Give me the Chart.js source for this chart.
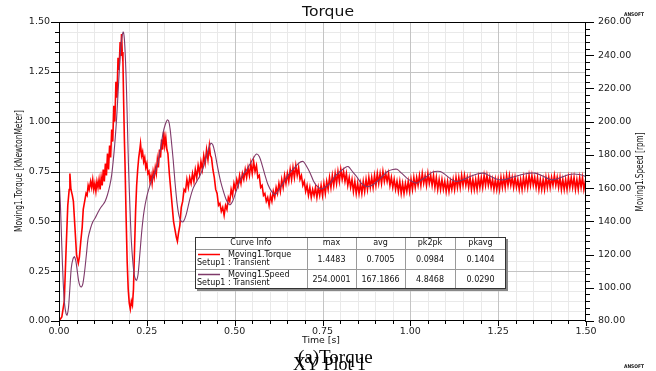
<!DOCTYPE html>
<html>
<head>
<meta charset="utf-8">
<script src="https://cdn.jsdelivr.net/npm/chart.js@4.4.1/dist/chart.umd.min.js"></script>
<style>
  html, body { margin: 0; padding: 0; background: #fff; }
  #wrap { width: 656px; height: 371px; }
</style>
</head>
<body>
<div id="wrap"><canvas id="c" width="656" height="371"></canvas></div>
<script>
// ---- data ----
// Moving1.Torque [kNewtonMeter] vs Time [s]
const torquePoints = [
  [0.000,0.00],[0.008,0.02],[0.015,0.10],[0.020,0.35],[0.025,0.58],[0.029,0.66],[0.031,0.74],[0.034,0.66],
  [0.038,0.63],[0.041,0.60],[0.045,0.48],[0.050,0.33],[0.055,0.29],[0.058,0.32],[0.062,0.40],[0.066,0.47],
  [0.069,0.56],[0.073,0.60],[0.077,0.64],[0.080,0.63],[0.083,0.68],[0.086,0.66],[0.090,0.70],[0.093,0.67],
  [0.096,0.71],[0.099,0.66],[0.102,0.69],[0.105,0.65],[0.108,0.70],[0.111,0.67],[0.114,0.71],[0.117,0.66],
  [0.120,0.72],[0.123,0.68],[0.126,0.76],[0.129,0.70],[0.132,0.79],[0.135,0.73],[0.138,0.84],[0.141,0.76],
  [0.144,0.88],[0.147,0.82],[0.150,0.96],[0.153,0.90],[0.156,1.08],[0.159,1.00],[0.162,1.20],[0.165,1.12],
  [0.168,1.32],[0.171,1.26],[0.174,1.40],[0.176,1.33],[0.178,1.44],[0.180,1.35],[0.182,1.30],[0.184,1.10],
  [0.186,0.92],[0.188,0.78],[0.191,0.52],[0.194,0.30],[0.197,0.16],[0.200,0.09],[0.203,0.06],[0.206,0.10],
  [0.209,0.08],[0.212,0.16],[0.215,0.36],[0.218,0.55],[0.221,0.68],[0.224,0.76],[0.227,0.82],[0.230,0.86],
  [0.232,0.89],[0.235,0.83],[0.238,0.85],[0.241,0.80],[0.244,0.82],[0.247,0.77],[0.250,0.79],[0.253,0.74],
  [0.256,0.75],[0.259,0.70],[0.262,0.73],[0.265,0.69],[0.268,0.75],[0.271,0.72],[0.274,0.77],[0.277,0.74],
  [0.280,0.81],[0.283,0.77],[0.286,0.86],[0.289,0.82],[0.292,0.91],[0.295,0.86],[0.298,0.95],[0.301,0.88],
  [0.304,0.92],[0.307,0.86],[0.310,0.84],[0.314,0.74],[0.318,0.66],[0.322,0.58],[0.326,0.50],[0.330,0.46],
  [0.334,0.42],[0.337,0.40],[0.340,0.44],[0.344,0.48],[0.348,0.57],[0.352,0.60],[0.356,0.66],[0.360,0.65],
  [0.364,0.71],[0.368,0.67],[0.372,0.72],[0.376,0.69],[0.380,0.74],[0.384,0.70],[0.388,0.76],[0.392,0.72],
  [0.396,0.78],[0.400,0.74],[0.404,0.80],[0.408,0.76],[0.412,0.83],[0.416,0.79],[0.420,0.86],[0.424,0.81],
  [0.428,0.88],[0.431,0.83],[0.434,0.82],[0.438,0.76],[0.442,0.72],[0.446,0.66],[0.450,0.64],[0.454,0.58],
  [0.458,0.59],[0.462,0.55],[0.466,0.57],[0.470,0.53],[0.474,0.58],[0.478,0.56],[0.482,0.62],[0.486,0.60],
  [0.490,0.66],[0.494,0.63],[0.498,0.69],[0.502,0.66],[0.506,0.71],[0.510,0.68],[0.514,0.73],[0.518,0.69],
  [0.522,0.74],[0.526,0.71],[0.530,0.76],[0.534,0.72],[0.538,0.77],[0.542,0.73],[0.546,0.79],[0.550,0.74],
  [0.554,0.80],[0.558,0.75],[0.562,0.78],[0.566,0.72],[0.570,0.73],[0.574,0.67],[0.578,0.68],[0.582,0.63],
  [0.586,0.64],[0.590,0.60],[0.594,0.62],[0.598,0.58],[0.602,0.63],[0.606,0.60],[0.610,0.65],[0.614,0.62],
  [0.618,0.67],[0.622,0.64],[0.626,0.69],[0.630,0.65],[0.634,0.71],[0.638,0.67],[0.642,0.73],[0.646,0.69],
  [0.650,0.74],[0.654,0.70],[0.658,0.76],[0.662,0.71],[0.666,0.77],[0.670,0.72],[0.674,0.78],[0.678,0.73],
  [0.682,0.77],[0.686,0.71],[0.690,0.73],[0.694,0.68],[0.698,0.70],[0.702,0.65],[0.706,0.68],[0.710,0.63],
  [0.714,0.67],[0.718,0.62],[0.722,0.66],[0.726,0.63],[0.730,0.67],[0.734,0.62],[0.738,0.67],[0.742,0.63],
  [0.746,0.68],[0.750,0.63],[0.754,0.69],[0.758,0.64],[0.762,0.70],[0.766,0.66],[0.770,0.72],[0.774,0.67],
  [0.778,0.73],[0.782,0.68],[0.786,0.74],[0.790,0.69],[0.794,0.75],[0.798,0.70],[0.802,0.76],[0.806,0.71],
  [0.810,0.75],[0.814,0.70],[0.818,0.74],[0.822,0.68],[0.826,0.72],[0.830,0.67],[0.834,0.71],[0.838,0.65],
  [0.842,0.70],[0.846,0.64],[0.850,0.69],[0.854,0.64],[0.858,0.69],[0.862,0.64],[0.866,0.70],[0.870,0.65],
  [0.874,0.71],[0.878,0.66],[0.882,0.72],[0.886,0.67],[0.890,0.72],[0.894,0.67],[0.898,0.73],[0.902,0.68],
  [0.906,0.74],[0.910,0.69],[0.914,0.74],[0.918,0.69],[0.922,0.75],[0.926,0.70],[0.930,0.74],[0.934,0.70],
  [0.938,0.74],[0.942,0.68],[0.946,0.72],[0.950,0.67],[0.954,0.71],[0.958,0.66],[0.962,0.70],[0.966,0.65],
  [0.970,0.70],[0.974,0.64],[0.978,0.69],[0.982,0.64],[0.986,0.69],[0.990,0.65],[0.994,0.70],[0.998,0.65],
  [1.002,0.71],[1.006,0.66],[1.010,0.72],[1.014,0.67],[1.018,0.72],[1.022,0.68],[1.026,0.73],[1.030,0.68],
  [1.034,0.74],[1.038,0.69],[1.042,0.73],[1.046,0.68],[1.050,0.74],[1.054,0.69],[1.058,0.73],[1.062,0.68],
  [1.066,0.73],[1.070,0.67],[1.074,0.72],[1.078,0.66],[1.082,0.71],[1.086,0.66],[1.090,0.71],[1.094,0.66],
  [1.098,0.70],[1.102,0.65],[1.106,0.70],[1.110,0.65],[1.114,0.70],[1.118,0.66],[1.122,0.71],[1.126,0.66],
  [1.130,0.72],[1.134,0.67],[1.138,0.72],[1.142,0.67],[1.146,0.73],[1.150,0.68],[1.154,0.73],[1.158,0.68],
  [1.162,0.72],[1.166,0.67],[1.170,0.72],[1.174,0.66],[1.178,0.71],[1.182,0.66],[1.186,0.71],[1.190,0.66],
  [1.194,0.72],[1.198,0.67],[1.202,0.72],[1.206,0.67],[1.210,0.73],[1.214,0.68],[1.218,0.73],[1.222,0.68],
  [1.226,0.72],[1.230,0.67],[1.234,0.71],[1.238,0.66],[1.242,0.71],[1.246,0.66],[1.250,0.71],[1.254,0.66],
  [1.258,0.72],[1.262,0.67],[1.266,0.72],[1.270,0.67],[1.274,0.73],[1.278,0.68],[1.282,0.73],[1.286,0.68],
  [1.290,0.72],[1.294,0.67],[1.298,0.72],[1.302,0.67],[1.306,0.71],[1.310,0.66],[1.314,0.71],[1.318,0.66],
  [1.322,0.72],[1.326,0.67],[1.330,0.72],[1.334,0.67],[1.338,0.73],[1.342,0.68],[1.346,0.73],[1.350,0.68],
  [1.354,0.72],[1.358,0.67],[1.362,0.72],[1.366,0.66],[1.370,0.71],[1.374,0.66],[1.378,0.71],[1.382,0.66],
  [1.386,0.72],[1.390,0.67],[1.394,0.72],[1.398,0.67],[1.402,0.72],[1.406,0.68],[1.410,0.73],[1.414,0.68],
  [1.418,0.72],[1.422,0.67],[1.426,0.72],[1.430,0.66],[1.434,0.71],[1.438,0.66],[1.442,0.71],[1.446,0.66],
  [1.450,0.72],[1.454,0.67],[1.458,0.72],[1.462,0.67],[1.466,0.72],[1.470,0.66],[1.474,0.71],[1.478,0.66],
  [1.482,0.72],[1.486,0.67],[1.490,0.72],[1.494,0.66],[1.498,0.70],[1.500,0.67]
];

// Moving1.Speed [rpm] vs Time [s]
const speedPoints = [
  [0.000,167],[0.004,150],[0.008,125],[0.012,103],[0.016,90],[0.020,84.5],[0.023,83.5],[0.027,88],
  [0.031,100],[0.035,112],[0.040,117.5],[0.044,118.7],[0.048,116],[0.052,110],[0.056,104],[0.060,101],
  [0.064,100.5],[0.068,102.5],[0.073,110],[0.078,120],[0.083,130],[0.090,136],[0.097,140],[0.103,142],
  [0.110,145],[0.118,148],[0.125,150],[0.131,152],[0.138,156],[0.145,162],[0.150,168],[0.156,180],
  [0.160,190],[0.164,202],[0.168,217],[0.172,232],[0.176,245],[0.180,252],[0.183,254],[0.186,250],
  [0.189,238],[0.192,220],[0.195,196],[0.198,172],[0.202,148],[0.206,128],[0.210,116],[0.214,108],
  [0.218,105],[0.221,104.5],[0.225,108],[0.230,120],[0.236,135],[0.242,146],[0.250,155],[0.258,161],
  [0.266,166],[0.274,170],[0.282,176],[0.290,185],[0.296,193],[0.302,198],[0.308,201],[0.312,200.5],
  [0.316,196],[0.320,188],[0.325,177],[0.330,164],[0.336,151],[0.342,143],[0.348,140],[0.354,139.8],
  [0.362,144],[0.372,153],[0.382,160],[0.392,164],[0.400,167],[0.410,172],[0.418,178],[0.425,183],
  [0.432,187],[0.438,186],[0.444,181],[0.452,172],[0.460,164],[0.468,158],[0.476,153],[0.485,150],
  [0.494,152],[0.504,158],[0.514,164],[0.524,168],[0.534,171],[0.545,175],[0.553,178],[0.562,180.5],
  [0.570,179],[0.578,174],[0.586,168],[0.595,162],[0.605,158],[0.615,156],[0.626,159],[0.638,163],
  [0.650,167],[0.660,170],[0.670,172],[0.682,175],[0.695,176],[0.705,173],[0.715,169],[0.725,164],
  [0.735,161],[0.748,159.5],[0.760,161],[0.772,163],[0.785,167],[0.800,170],[0.812,172],[0.823,173],
  [0.835,170],[0.847,167],[0.860,163],[0.875,161],[0.890,161.5],[0.905,164],[0.920,167],[0.935,170],
  [0.950,171.2],[0.962,171.3],[0.975,169],[0.990,166],[1.005,164],[1.018,163],[1.032,165],[1.047,167],
  [1.062,169.5],[1.085,170],[1.100,168],[1.118,165],[1.132,164],[1.150,165],[1.170,167],[1.190,168.5],
  [1.208,169],[1.225,167.5],[1.245,165.5],[1.265,165],[1.290,166.5],[1.315,168],[1.340,169],[1.355,169],
  [1.375,167.5],[1.395,165.5],[1.407,165],[1.430,166.5],[1.450,168],[1.465,168.5],[1.485,168],[1.500,167]
];

// curve info table
const statHeaders = ['Curve Info', 'max', 'avg', 'pk2pk', 'pkavg'];
const curveNames = [['Moving1.Torque', 'Setup1 : Transient'], ['Moving1.Speed', 'Setup1 : Transient']];
const torqueStats = ['1.4483', '0.7005', '0.0984', '0.1404'];
const speedStats = ['254.0001', '167.1866', '4.8468', '0.0290'];

const RED = '#ff0000';
const PURPLE = '#7f3a6a';
const SANS = '"DejaVu Sans", Verdana, sans-serif';

function fitText(ctx, text, x, y, width) {
  // draw text centred at x,y, squeezed/stretched horizontally to width
  const w = ctx.measureText(text).width;
  ctx.save();
  ctx.translate(x, y);
  ctx.scale(width / w, 1);
  ctx.textAlign = 'center';
  ctx.fillText(text, 0, 0);
  ctx.restore();
}

const ansoftDecor = {
  id: 'ansoftDecor',
  beforeDatasetsDraw(chart) {
    const { ctx, chartArea: a, scales: { x, y } } = chart;
    ctx.save();
    ctx.lineWidth = 1;
    const vline = (v, col) => {
      const px = Math.round(x.getPixelForValue(v)) + 0.5;
      ctx.strokeStyle = col; ctx.beginPath(); ctx.moveTo(px, a.top); ctx.lineTo(px, a.bottom); ctx.stroke();
    };
    const hline = (v, col) => {
      const py = Math.round(y.getPixelForValue(v)) + 0.5;
      ctx.strokeStyle = col; ctx.beginPath(); ctx.moveTo(a.left, py); ctx.lineTo(a.right, py); ctx.stroke();
    };
    for (let i = 1; i < 30; i++) { if (i % 5) { vline(i * 0.05, '#e9e9e9'); hline(i * 0.05, '#e9e9e9'); } }
    for (let i = 1; i < 6; i++) { vline(i * 0.25, '#c4c4c4'); hline(i * 0.25, '#c4c4c4'); }
    ctx.restore();
  },
  afterDraw(chart) {
    const { ctx, chartArea: a, scales: { x, y, y1 } } = chart;
    ctx.save();
    // frame
    ctx.strokeStyle = '#000';
    ctx.lineWidth = 1;
    ctx.strokeRect(Math.round(a.left) + 0.5, Math.round(a.top) + 0.5,
                   Math.round(a.right - a.left) - 1, Math.round(a.bottom - a.top) - 1);
    // tick marks
    ctx.beginPath();
    for (let i = 0; i <= 30; i++) {
      const py = Math.round(y.getPixelForValue(i * 0.05)) + 0.5;
      const len = i % 5 ? 4 : 8;
      ctx.moveTo(a.left, py); ctx.lineTo(a.left - len, py);
      const px = Math.round(x.getPixelForValue(i * 0.05)) + 0.5;
      const blen = i % 5 ? 3 : 5;
      ctx.moveTo(px, a.bottom); ctx.lineTo(px, a.bottom + blen);
    }
    for (let s = 80; s <= 260; s += 4) {
      const py = Math.round(y1.getPixelForValue(s)) + 0.5;
      const len = (s - 80) % 20 ? 4 : 8;
      ctx.moveTo(a.right - 1, py); ctx.lineTo(a.right + len, py);
    }
    ctx.stroke();

    // texts
    ctx.fillStyle = '#111';
    ctx.textBaseline = 'middle';
    ctx.font = '14px ' + SANS;
    fitText(ctx, 'Torque', 328, 12, 52);
    ctx.font = '9px ' + SANS;
    fitText(ctx, 'Time [s]', 321, 341, 38);
    ctx.font = '10px ' + SANS;
    ctx.save(); ctx.translate(19, 171); ctx.rotate(-Math.PI / 2);
    fitText(ctx, 'Moving1.Torque [kNewtonMeter]', 0, 0, 122); ctx.restore();
    ctx.save(); ctx.translate(640, 172); ctx.rotate(-Math.PI / 2);
    fitText(ctx, 'Moving1.Speed [rpm]', 0, 0, 79); ctx.restore();
    ctx.font = 'bold 5px ' + SANS;
    fitText(ctx, 'ANSOFT', 634, 15, 20);
    fitText(ctx, 'ANSOFT', 634, 367, 20);

    // caption (two overlapping serif labels, as in the source)
    ctx.fillStyle = '#000';
    ctx.textBaseline = 'alphabetic';
    ctx.textAlign = 'left';
    ctx.font = '18px "Liberation Serif", "Times New Roman", serif';
    ctx.fillText('XY Plot 1', 293, 370);
    ctx.font = '19px "Liberation Serif", "Times New Roman", serif';
    ctx.fillText('(a)Torque', 298, 363);

    // curve info table
    const L = 195, T = 237, R = 506, B = 289;
    const cols = [L, 307, 356, 405, 455, R];
    const rows = [T, 249, 269, B];
    ctx.fillStyle = '#fff';
    ctx.fillRect(L, T, R - L, B - T);
    ctx.fillStyle = '#888';
    ctx.fillRect(L + 2, B, R - L, 2);
    ctx.fillRect(R, T + 2, 2, B - T);
    ctx.strokeStyle = '#9a9a9a';
    ctx.beginPath();
    cols.slice(1, -1).forEach(c => { ctx.moveTo(c + 0.5, T); ctx.lineTo(c + 0.5, B); });
    rows.slice(1, -1).forEach(r => { ctx.moveTo(L, r + 0.5); ctx.lineTo(R, r + 0.5); });
    ctx.stroke();
    ctx.strokeStyle = '#333';
    ctx.strokeRect(L + 0.5, T + 0.5, R - L - 1, B - T - 1);

    ctx.fillStyle = '#111';
    ctx.font = '8px ' + SANS;
    ctx.textBaseline = 'middle';
    ctx.textAlign = 'center';
    statHeaders.forEach((h, i) => ctx.fillText(h, (cols[i] + cols[i + 1]) / 2, 243));
    [torqueStats, speedStats].forEach((st, r) => {
      const cy = r ? 279.5 : 259.5;
      st.forEach((v, i) => ctx.fillText(v, (cols[i + 1] + cols[i + 2]) / 2, cy));
    });
    ctx.textAlign = 'left';
    [[RED, 254.5], [PURPLE, 274.5]].forEach(([col, ly], r) => {
      ctx.strokeStyle = col; ctx.lineWidth = 1.5;
      ctx.beginPath(); ctx.moveTo(198, ly); ctx.lineTo(220, ly); ctx.stroke();
      ctx.fillText(curveNames[r][0], 228, ly + 0.5);
      ctx.fillText(curveNames[r][1], 197, ly + 8);
    });
    ctx.restore();
  }
};

const tickFont = { family: SANS, size: 9.5 };

new Chart(document.getElementById('c'), {
  type: 'line',
  data: {
    datasets: [
      {
        label: 'Moving1.Torque', yAxisID: 'y', order: 1,
        data: torquePoints.map(p => ({ x: p[0], y: p[1] })),
        borderColor: RED, borderWidth: 1.6, pointRadius: 0, tension: 0,
      },
      {
        label: 'Moving1.Speed', yAxisID: 'y1', order: 0,
        data: speedPoints.map(p => ({ x: p[0], y: p[1] })),
        borderColor: PURPLE, borderWidth: 1.1, pointRadius: 0, tension: 0.3,
      },
    ],
  },
  options: {
    responsive: false, animation: false, devicePixelRatio: 1, parsing: false,
    layout: { padding: { top: 22, left: 0, right: 0, bottom: 0 } },
    plugins: { legend: { display: false }, title: { display: false }, tooltip: { enabled: false } },
    scales: {
      x: {
        type: 'linear', min: 0, max: 1.5,
        grid: { display: false, drawTicks: false }, border: { display: false },
        ticks: { stepSize: 0.25, color: '#222', font: tickFont, padding: 5, callback: v => v.toFixed(2) },
        afterFit: s => { s.height = 50; },
      },
      y: {
        position: 'left', min: 0, max: 1.5,
        grid: { display: false, drawTicks: false }, border: { display: false },
        ticks: { stepSize: 0.25, color: '#222', font: tickFont, padding: 9, callback: v => v.toFixed(2) },
        afterFit: s => { s.width = 59; },
      },
      y1: {
        position: 'right', min: 80, max: 260,
        grid: { display: false, drawTicks: false }, border: { display: false },
        ticks: { stepSize: 20, color: '#222', font: tickFont, padding: 12, callback: v => v.toFixed(2) },
        afterFit: s => { s.width = 70; },
      },
    },
  },
  plugins: [ansoftDecor],
});
</script>
</body>
</html>
